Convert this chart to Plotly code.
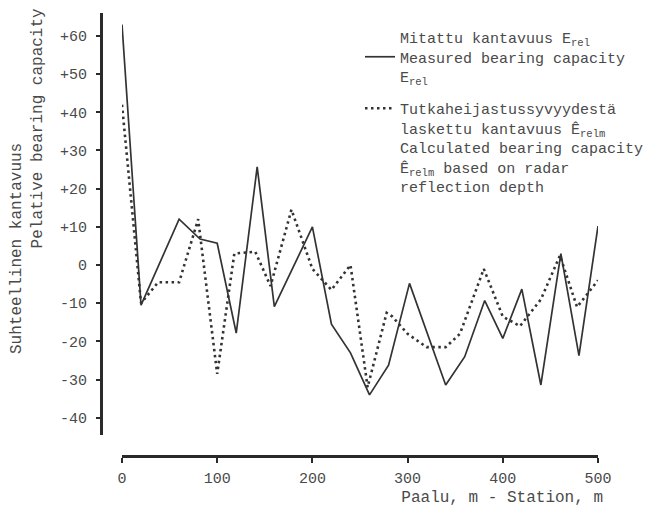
import plotly.graph_objects as go

# Measured bearing capacity E_rel (solid line)
measured_station = [0, 20, 60, 82, 100, 120, 142, 160, 200, 220, 240, 260, 280, 302, 340, 360, 381, 400, 420, 440, 461, 480, 500]
measured_value = [63, -10.5, 12, 6.8, 5.7, -17.8, 25.7, -10.9, 10, -15.5, -23, -34, -26.2, -4.8, -31.4, -24, -9.3, -19.2, -6.3, -31.4, 3, -23.7, 10.2]

# Calculated bearing capacity from radar reflection depth (dotted line)
calc_station = [0, 20, 38, 60, 80, 100, 118, 140, 156, 178, 200, 220, 240, 258, 278, 284, 300, 320, 340, 355, 380, 400, 418, 440, 460, 478, 500]
calc_value = [42, -10, -4.5, -4.5, 12, -28.5, 3, 3.5, -5.5, 14.5, -1, -6.5, 0, -32, -12.5, -13.5, -18, -21.5, -21.5, -18, -1, -13.5, -16, -9, 2.5, -11, -4]

y_tickvals = [60, 50, 40, 30, 20, 10, 0, -10, -20, -30, -40]
y_ticktext = ["+60", "+50", "+40", "+30", "+20", "+10", "0", "-10", "-20", "-30", "-40"]
x_tickvals = [0, 100, 200, 300, 400, 500]
x_ticktext = ["0", "100", "200", "300", "400", "500"]

name_measured = "Mitattu kantavuus E<sub>rel</sub><br>Measured bearing capacity<br>E<sub>rel</sub>"
name_calc = ("Tutkaheijastussyvyydestä<br>laskettu kantavuus Ê<sub>relm</sub><br>"
             "Calculated bearing capacity<br>Ê<sub>relm</sub> based on radar<br>reflection depth")

y_title_line1 = "Suhteellinen kantavuus"
y_title_line2 = "Pelative bearing capacity"
x_title = "Paalu, m - Station, m"

FONT = "Liberation Mono"
TXT = "#4a4a4a"
LINE = "#333333"
AX = "#2a2a2a"
W, H = 662, 510

# y scale: 0 at 265 px, 3.819 px per unit; plot area spans 13..455 px
Y_TOP_PX, Y_BOT_PX, Y_SPINE_END_PX = 13, 455, 435
X_SPINE_PX = 456.5
PX_PER_UNIT = 3.819
Y_MAX = 66.0
Y_MIN = Y_MAX - (Y_BOT_PX - Y_TOP_PX) / PX_PER_UNIT
X_LEFT_PX, X_RIGHT_PX = 122, 598

# the rotated y title is bottom-aligned in the original and sits in the upper half:
# pad with non-breaking spaces (monospace) so that both lines start at the same place
NB = "\u00a0"
pad_lead = NB * 22
width_chars = max(len(y_title_line1), len(y_title_line2))
y_title_text = (pad_lead + y_title_line1 + NB * (width_chars - len(y_title_line1)) + "<br>"
                + pad_lead + y_title_line2 + NB * (width_chars - len(y_title_line2)))

fig = go.Figure()
fig.add_trace(go.Scatter(
    x=measured_station, y=measured_value, mode="lines", name=name_measured,
    line=dict(color=LINE, width=1.7), legend="legend", showlegend=True))
fig.add_trace(go.Scatter(
    x=calc_station, y=calc_value, mode="lines", name=name_calc,
    line=dict(color=LINE, width=2.6, dash="2.5px,3.5px"), legend="legend2", showlegend=True))

fig.update_layout(
    width=W, height=H,
    margin=dict(l=0, r=0, t=0, b=0),
    paper_bgcolor="white", plot_bgcolor="white",
    font=dict(family=FONT, color=TXT, size=15),
    showlegend=True,
    title=dict(text=x_title, xref="paper", yref="paper",
               x=603 / W, xanchor="right", y=1 - 496 / H, yanchor="middle",
               font=dict(family=FONT, size=16, color=TXT)),
    xaxis=dict(
        domain=[X_LEFT_PX / W, X_RIGHT_PX / W], range=[0, 500], anchor="y",
        showline=True, linecolor=AX, linewidth=2.5,
        ticks="outside", ticklen=5, tickwidth=2, tickcolor=AX,
        tickvals=x_tickvals, ticktext=x_ticktext,
        tickfont=dict(family=FONT, size=15, color=TXT),
        ticklabelstandoff=2,
        showgrid=False, zeroline=False, automargin=False,
    ),
    yaxis=dict(
        domain=[1 - Y_BOT_PX / H, 1 - Y_TOP_PX / H], range=[Y_MIN, Y_MAX],
        anchor="free", position=101 / W,
        showline=False, linewidth=3,
        ticks="outside", ticklen=5, tickwidth=2, tickcolor=AX,
        tickvals=y_tickvals, ticktext=y_ticktext,
        tickfont=dict(family=FONT, size=15, color=TXT),
        ticklabelstandoff=6,
        title=dict(text=y_title_text, standoff=12,
                   font=dict(family=FONT, size=16, color=TXT)),
        showgrid=False, zeroline=False, automargin=False,
    ),
    legend=dict(
        x=360 / W, y=1 - 21 / H, xanchor="left", yanchor="top",
        bgcolor="rgba(0,0,0,0)", borderwidth=0, valign="middle", visible=True,
        font=dict(family=FONT, size=15, color=TXT), itemwidth=30,
    ),
    legend2=dict(
        x=360 / W, y=1 - 92 / H, xanchor="left", yanchor="top",
        bgcolor="rgba(0,0,0,0)", borderwidth=0, valign="top", visible=True,
        font=dict(family=FONT, size=15, color=TXT), itemwidth=30,
    ),
    shapes=[
        # detached y-axis spine (ends above the x axis, as in the original)
        dict(type="line", xref="paper", yref="paper", layer="above",
             x0=101.5 / W, x1=101.5 / W, y0=1 - Y_SPINE_END_PX / H, y1=1 - Y_TOP_PX / H,
             line=dict(color=AX, width=3)),
        # x-axis spine
        dict(type="line", xref="paper", yref="paper", layer="above",
             x0=X_LEFT_PX / W, x1=X_RIGHT_PX / W, y0=1 - X_SPINE_PX / H, y1=1 - X_SPINE_PX / H,
             line=dict(color=AX, width=2.5)),
    ],
)

fig.write_html("out.html")
